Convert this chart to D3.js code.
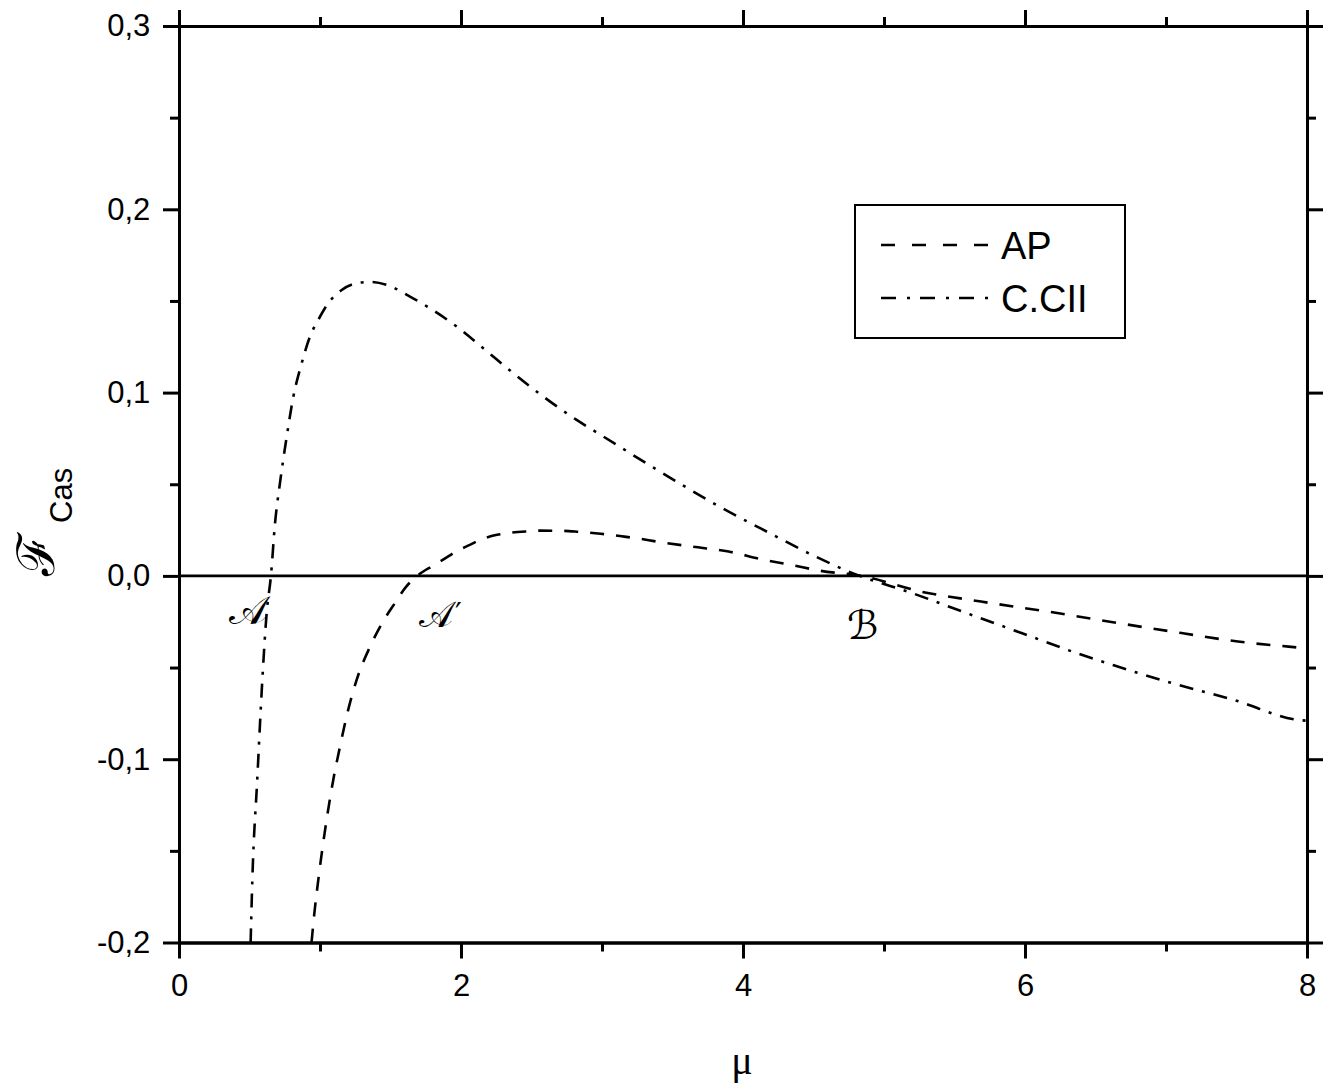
<!DOCTYPE html>
<html>
<head>
<meta charset="utf-8">
<script src="https://cdn.jsdelivr.net/npm/d3@7"></script>
<style>
  body { margin: 0; background: #fff; }
  svg { display: block; }
  .axis text { font-family: "Liberation Sans", Arial, sans-serif; font-size: 31px; fill: #000; }
  .axis path, .axis line { stroke: #000; stroke-width: 3px; }
  .curve { fill: none; stroke: #000; stroke-width: 2.6px; }
</style>
</head>
<body>
<svg id="chart" width="1343" height="1092"></svg>
<script>
// AP curve (dashed)
var muAP = [0.940, 0.96, 0.988, 1.019, 1.054, 1.094, 1.142, 1.194, 1.26, 1.355, 1.44, 1.53, 1.61, 1.69,
            1.80, 1.87, 1.97, 2.05, 2.156, 2.255, 2.36, 2.47, 2.56, 2.72, 2.83, 2.99, 3.14, 3.23,
            3.39, 3.637, 3.898, 4.125, 4.353, 4.549, 4.84, 5.265, 5.688, 6.24, 6.665, 7.12, 7.51, 7.87, 8.0];
var fAP = [-0.200, -0.184, -0.1658, -0.1477, -0.1295, -0.1113, -0.0931, -0.0749, -0.0567, -0.0386, -0.0258, -0.015, -0.006, 0.0,
           0.0055, 0.0087, 0.0135, 0.0165, 0.0203, 0.0224, 0.0236, 0.0243, 0.0247, 0.0246, 0.0241, 0.023, 0.0216, 0.0207,
           0.0187, 0.016, 0.0133, 0.0092, 0.0058, 0.0028, 0.0, -0.0086, -0.014, -0.0204, -0.0258, -0.0313, -0.0358, -0.0386, -0.0395];

// C.CII curve (dash-dot)
var muCII = [0.508, 0.520, 0.555, 0.591, 0.622, 0.652, 0.681, 0.716, 0.764, 0.811, 0.870, 0.929, 0.988, 1.059,
             1.154, 1.26, 1.355, 1.473, 1.638, 1.78, 1.97, 2.158, 2.371, 2.584, 2.82, 3.0, 3.35, 3.833,
             4.19, 4.516, 4.777, 5.20, 5.59, 5.98, 6.37, 6.63, 7.02, 7.48, 7.94, 8.0];
var fCII = [-0.200, -0.166, -0.111, -0.0567, -0.020, 0.0, 0.0287, 0.0506, 0.076, 0.0978, 0.116, 0.1306, 0.1397, 0.1488,
            0.156, 0.1597, 0.1604, 0.1588, 0.1524, 0.146, 0.136, 0.1242, 0.1106, 0.0978, 0.0851, 0.0765, 0.0598, 0.0378,
            0.0233, 0.0105, 0.0015, -0.0094, -0.0204, -0.0313, -0.0422, -0.0488, -0.058, -0.0676, -0.0786, -0.079];

var xMajor = [0, 2, 4, 6, 8];
var xMinor = [1, 3, 5, 7];
var yMajor = [-0.2, -0.1, 0.0, 0.1, 0.2, 0.3];
var yMinor = [-0.15, -0.05, 0.05, 0.15, 0.25];

var seriesNames = ["AP", "C.CII"];
var dashes = ["14,12", "14,9,3,9"];

function drawChart() {
    var svg = d3.select("#chart");
    var left = 179, right = 1307, plotTop = 26, bottom = 942.5;

    var x = d3.scaleLinear().domain([0, 8]).range([left, right]);
    var y = d3.scaleLinear().domain([-0.2, 0.3]).range([bottom, plotTop]);

    function fmtY(d) { return d3.format(".1f")(d).replace(".", ",").replace("\u2212", "-"); }

    svg.append("defs").append("clipPath").attr("id", "clip")
        .append("rect").attr("x", left).attr("y", plotTop)
        .attr("width", right - left).attr("height", bottom - plotTop);

    // zero line
    svg.append("line")
        .attr("x1", x(0)).attr("x2", x(8))
        .attr("y1", y(0)).attr("y2", y(0))
        .attr("stroke", "#000").attr("stroke-width", 2.6);

    // curves
    var line = d3.line()
        .x(function(d) { return x(d[0]); })
        .y(function(d) { return y(d[1]); })
        .curve(d3.curveMonotoneX);

    var data = [d3.zip(muAP, fAP), d3.zip(muCII, fCII)];
    svg.append("g").attr("clip-path", "url(#clip)")
        .selectAll(".curve")
        .data(data)
        .enter().append("path")
        .attr("class", "curve")
        .attr("stroke-dasharray", function(d, i) { return dashes[i]; })
        .attr("d", line);

    // axes: major + minor ticks on all four sides
    function addAxis(axisFn, scale, major, minor, transform, fmt) {
        svg.append("g").attr("class", "axis").attr("transform", transform)
            .call(axisFn(scale).tickValues(minor).tickSize(9).tickSizeOuter(0).tickFormat(""));
        return svg.append("g").attr("class", "axis").attr("transform", transform)
            .call(axisFn(scale).tickValues(major).tickSize(16).tickSizeOuter(0)
                  .tickPadding(8).tickFormat(fmt));
    }

    var gb = addAxis(d3.axisBottom, x, xMajor, xMinor, "translate(0," + bottom + ")", d3.format("d"));
    gb.selectAll("text").attr("dy", "0.95em");
    addAxis(d3.axisTop, x, xMajor, xMinor, "translate(0," + plotTop + ")", function() { return ""; });
    var gl = addAxis(d3.axisLeft, y, yMajor, yMinor, "translate(" + left + ",0)", fmtY);
    gl.selectAll("text").attr("dx", "-0.15em");
    addAxis(d3.axisRight, y, yMajor, yMinor, "translate(" + right + ",0)", function() { return ""; });

    // axis titles
    svg.append("text")
        .attr("x", 742).attr("y", 1074)
        .attr("text-anchor", "middle")
        .style("font-family", "'Liberation Serif', serif")
        .style("font-size", "40px")
        .text("\u03bc");

    svg.append("text")
        .attr("transform", "translate(54,576) rotate(-90)")
        .style("font-family", "'DejaVu Serif', serif")
        .style("font-size", "52px")
        .text("\u2131");
    svg.append("text")
        .attr("transform", "translate(72,523) rotate(-90)")
        .style("font-family", "'Liberation Sans', Arial, sans-serif")
        .style("font-size", "31px")
        .text("Cas");

    // point annotations
    var notes = [["\ud835\udc9c", 229, 624, 40], ["\ud835\udc9c", 419, 627, 36], ["\u212c", 847, 639, 40]];
    svg.selectAll(".note")
        .data(notes)
        .enter().append("text")
        .attr("class", "note")
        .attr("x", function(d) { return d[1]; })
        .attr("y", function(d) { return d[2]; })
        .style("font-family", "'DejaVu Serif', 'DejaVu Sans', serif")
        .style("font-size", function(d) { return d[3] + "px"; })
        .text(function(d) { return d[0]; });
    svg.append("text")
        .attr("x", 455).attr("y", 624)
        .style("font-family", "'DejaVu Sans', sans-serif")
        .style("font-size", "30px")
        .text("\u2032");

    // legend
    var legend = svg.append("g");
    legend.append("rect")
        .attr("x", 855).attr("y", 205).attr("width", 270).attr("height", 133)
        .attr("fill", "#fff").attr("stroke", "#000").attr("stroke-width", 2);

    var item = legend.selectAll(".item")
        .data(seriesNames)
        .enter().append("g")
        .attr("class", "item")
        .attr("transform", function(d, i) { return "translate(0," + (245 + i * 53) + ")"; });

    item.append("line")
        .attr("x1", 881).attr("x2", 989).attr("y1", 0).attr("y2", 0)
        .attr("stroke", "#000").attr("stroke-width", 2.6)
        .attr("stroke-dasharray", function(d, i) { return i == 0 ? "14,17" : "15,11,3,10"; });

    item.append("text")
        .attr("x", 1001).attr("y", 14)
        .style("font-family", "'Liberation Sans', Arial, sans-serif")
        .style("font-size", "38px")
        .text(function(d) { return d; });
}

drawChart();
</script>
</body>
</html>
